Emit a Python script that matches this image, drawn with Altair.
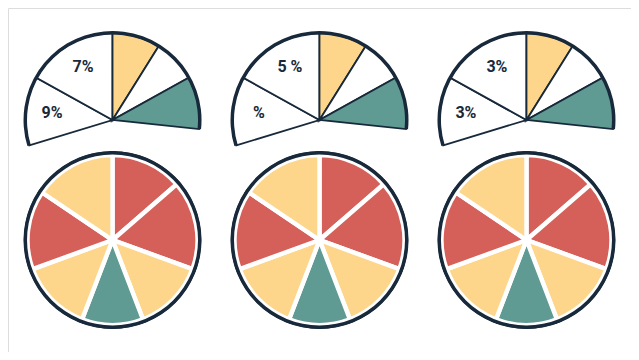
import math
import altair as alt
import pandas as pd

# ---- data ----
cols = ["A", "B", "C"]
rows = ["top", "bottom"]

# top (partial) pie: slice boundaries in degrees, clockwise from 12 o'clock
top_starts = [-107, -61, 0, 32, 61]
top_ends = [-61, 0, 32, 61, 96]
top_kinds = ["white", "white", "yellow", "white", "teal"]

# bottom (full) pie
bottom_bounds = [0, 49, 110, 159, 201, 250, 304, 360]
bottom_kinds = ["red", "red", "yellow", "teal", "yellow", "red", "yellow"]

# labels on the top pies
label_texts = [["9%", "7%"], ["%", "5 %"], ["3%", "3%"]]
label_angles = [277, 331]

kinds = ["red", "yellow", "teal", "white"]
kind_colors = ["#D55F59", "#FDD68B", "#5F9A93", "#FFFFFF"]
DARK = "#17293A"

# ---- tables ----
top_df = pd.DataFrame(
    [
        {"col": c, "row": "top", "start": s, "end": e, "kind": k}
        for c in cols
        for s, e, k in zip(top_starts, top_ends, top_kinds)
    ]
)
bottom_df = pd.DataFrame(
    [
        {"col": c, "row": "bottom", "start": bottom_bounds[i], "end": bottom_bounds[i + 1], "kind": k}
        for c in cols
        for i, k in enumerate(bottom_kinds)
    ]
)
top_rim_df = pd.DataFrame(
    [{"col": c, "row": "top", "start": top_starts[0], "end": top_ends[-1]} for c in cols]
)
bottom_rim_df = pd.DataFrame(
    [{"col": c, "row": "bottom", "start": 0, "end": 360} for c in cols]
)
label_df = pd.DataFrame(
    [
        {"col": c, "row": "top", "angle": a, "text": t}
        for c, texts in zip(cols, label_texts)
        for a, t in zip(label_angles, texts)
    ]
)

W, H = 623, 344
x_enc = alt.X("col:N", scale=alt.Scale(type="point", domain=cols, padding=0.505), axis=None)
y_enc = alt.Y("row:N", scale=alt.Scale(type="point", domain=rows, padding=0.933), axis=None)
theta_scale = alt.Scale(domain=[0, 360], range=[0, 2 * math.pi])
th = alt.Theta("start:Q", scale=theta_scale, stack=None)
th2 = alt.Theta2("end:Q")
color_enc = alt.Color("kind:N", scale=alt.Scale(domain=kinds, range=kind_colors), legend=None)

R = 87

bottom_dark = alt.Chart(bottom_df).mark_arc(
    radius=R - 2, stroke=DARK, strokeWidth=7.4, strokeJoin="miter"
).encode(x=x_enc, y=y_enc, theta=th, theta2=th2, color=color_enc)

bottom_white = alt.Chart(bottom_df).mark_arc(
    radius=R - 2, stroke="white", strokeWidth=4.4, strokeJoin="miter"
).encode(x=x_enc, y=y_enc, theta=th, theta2=th2, color=color_enc)

bottom_rim = alt.Chart(bottom_rim_df).mark_arc(
    radius=R + 2, radius2=R - 1.5, color=DARK
).encode(x=x_enc, y=y_enc, theta=th, theta2=th2)

bottom_center = alt.Chart(bottom_rim_df).mark_arc(
    radius=4.5, color="white"
).encode(x=x_enc, y=y_enc, theta=th, theta2=th2)

top_slices = alt.Chart(top_df).mark_arc(
    radius=R, stroke=DARK, strokeWidth=1.8, strokeJoin="miter"
).encode(x=x_enc, y=y_enc, theta=th, theta2=th2, color=color_enc)

top_rim = alt.Chart(top_rim_df).mark_arc(
    radius=R + 2, radius2=R - 1.5, color=DARK
).encode(x=x_enc, y=y_enc, theta=th, theta2=th2)

labels = alt.Chart(label_df).mark_text(
    font="Roboto", fontWeight="bold", fontSize=16, color=DARK, baseline="middle", align="center"
).encode(
    x=x_enc,
    y=y_enc,
    theta=alt.Theta("angle:Q", scale=theta_scale, stack=None),
    radius=alt.value(61),
    text="text:N",
)

chart = (
    alt.layer(bottom_dark, bottom_white, bottom_rim, bottom_center, top_slices, top_rim, labels)
    .properties(
        width=W,
        height=H,
        autosize=alt.AutoSizeParams(type="fit", contains="padding"),
        padding=0,
    )
    .configure_view(strokeWidth=0, stroke="transparent")
    .configure(background="white")
)

chart.save("out.html", embed_options={"renderer": "svg", "actions": False})
